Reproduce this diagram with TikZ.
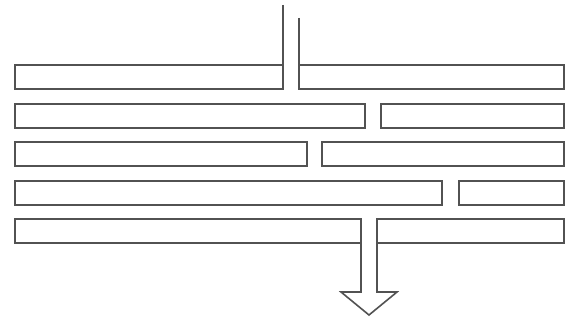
\documentclass[tikz,border=0pt]{standalone}
\usepackage{tikz}
\tikzset{
  placa/.style={draw=black!68, line width=1.6pt, line join=miter, fill=white},
}

\begin{document}
\begin{tikzpicture}[x=1pt, y=-1pt]
  \useasboundingbox (0,0) rectangle (570,320);
  % primeira placa, com a entrada
  \draw[placa] (283,5) -- (283,89) -- (15,89) -- (15,65) -- (283,65);
  \draw[placa] (299,18) -- (299,89) -- (564,89) -- (564,65) -- (299,65);
  % placas do meio
  \foreach \topo/\esq/\dir in {104/365/381, 142/307/322, 181/442/459}{
    \draw[placa] (15,\topo) rectangle (\esq,\topo+24);
    \draw[placa] (\dir,\topo) rectangle (564,\topo+24);
  }
  % ultima placa, com a saida
  \draw[placa] (361,243) -- (15,243) -- (15,219) -- (361,219) -- (361,292)
    -- (341,292) -- (369,315) -- (397,292) -- (377,292) -- (377,219)
    -- (564,219) -- (564,243) -- (377,243);
\end{tikzpicture}
\end{document}
